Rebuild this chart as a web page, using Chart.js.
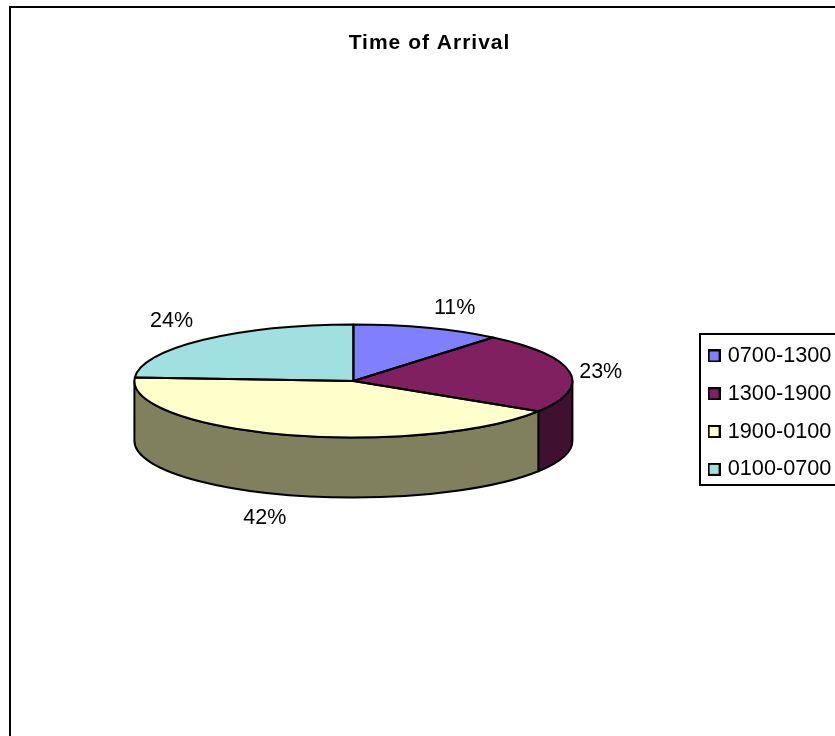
<!DOCTYPE html>
<html>
<head>
<meta charset="utf-8">
<title>Time of Arrival</title>
<script src="https://cdn.jsdelivr.net/npm/chart.js@4"></script>
<style>
  html, body { margin: 0; padding: 0; background: #fff; overflow: hidden; }
  canvas { display: block; }
</style>
</head>
<body>
<canvas id="chart" width="835" height="736"></canvas>
<script>
"use strict";

const categories = ["0700-1300", "1300-1900", "1900-0100", "0100-0700"];
const shares = [11, 23, 42, 24];
const colors = ["#8080FF", "#802060", "#FFFFCC", "#A0E0E0"];
const wallColors = ["#404080", "#401030", "#80805F", "#507070"];

// offset of each percent label from the rim of its slice
const labelOffsets = [[27, -20], [31, 0], [-21, 23], [-32, -19]];

const squash = 0.258; // height / width of the tilted pie
const depth = 60;     // height of the pie wall in px
const font = "Liberation Sans, Arial, sans-serif";

// Small bordered square used as the legend key
const swatch = (color) => {
  const c = document.createElement("canvas");
  c.width = c.height = 13;
  const g = c.getContext("2d");
  g.fillStyle = color;
  g.fillRect(0, 0, 13, 13);
  g.strokeStyle = "#000";
  g.lineWidth = 2;
  g.strokeRect(1, 1, 11, 11);
  return c;
};

// Excel style frame, legend box and spaced out title
const frame = {
  id: "frame",
  afterLayout(chart) {
    const legend = chart.legend;
    legend.left = 695.25;
    legend.top = 329;

    const title = chart.titleBlock;
    title.left = 24;
    title.right = 835;
    if (!title.spaced) {
      const drawTitle = title.draw;
      title.draw = function () {
        chart.ctx.letterSpacing = "1px";
        drawTitle.call(this);
        chart.ctx.letterSpacing = "0px";
      };
      title.spaced = true;
    }
  },
  beforeDraw(chart) {
    const ctx = chart.ctx;
    ctx.save();
    ctx.strokeStyle = "#000";
    ctx.lineWidth = 2;
    ctx.strokeRect(10, 7, 900, 900);
    ctx.strokeRect(700, 334, 200, 151);
    ctx.restore();
  },
};

// Chart.js has no 3D pie, so the doughnut arcs get squashed and a wall goes under them
const pie3d = {
  id: "pie3d",
  beforeDatasetsDraw(chart) {
    const ctx = chart.ctx;
    const arcs = chart.getDatasetMeta(0).data;
    const { x, y, outerRadius: r } = arcs[0];
    const ry = r * squash;

    ctx.save();
    ctx.strokeStyle = "#000";
    ctx.lineWidth = 2;
    ctx.lineJoin = "round";
    arcs.forEach((arc, i) => {
      // only the front half of the rim shows
      const from = Math.max(arc.startAngle, 0);
      const to = Math.min(arc.endAngle, Math.PI);
      if (to <= from) return;
      ctx.beginPath();
      ctx.ellipse(x, y, r, ry, 0, from, to);
      ctx.ellipse(x, y + depth, r, ry, 0, to, from, true);
      ctx.closePath();
      ctx.fillStyle = wallColors[i];
      ctx.fill();
      ctx.stroke();
    });
    ctx.restore();

    ctx.save();
    ctx.translate(x, y);
    ctx.scale(1, squash);
    ctx.translate(-x, -y);
  },
  afterDatasetsDraw(chart) {
    const ctx = chart.ctx;
    ctx.restore();

    const arcs = chart.getDatasetMeta(0).data;
    const { x, y, outerRadius: r } = arcs[0];
    const ry = r * squash;

    ctx.save();
    ctx.strokeStyle = "#000";
    ctx.lineWidth = 2;
    ctx.lineJoin = "round";
    arcs.forEach((arc) => {
      ctx.beginPath();
      ctx.moveTo(x, y);
      ctx.ellipse(x, y, r, ry, 0, arc.startAngle, arc.endAngle);
      ctx.closePath();
      ctx.stroke();
    });

    ctx.fillStyle = "#000";
    ctx.font = "21.5px " + font;
    ctx.textAlign = "center";
    ctx.textBaseline = "middle";
    arcs.forEach((arc, i) => {
      const mid = (arc.startAngle + arc.endAngle) / 2;
      const rimX = x + r * Math.cos(mid);
      let rimY = y + ry * Math.sin(mid);
      if (Math.sin(mid) > 0.5) rimY += depth;
      ctx.fillText(shares[i] + "%", rimX + labelOffsets[i][0], rimY + labelOffsets[i][1]);
    });
    ctx.restore();
  },
};

const config = {
  type: "pie",
  data: {
    labels: categories,
    datasets: [{
      data: shares,
      backgroundColor: colors,
      borderWidth: 0,
    }],
  },
  options: {
    responsive: false,
    animation: false,
    events: [],
    layout: { padding: { left: 18, right: 0, top: 0, bottom: 136 } },
    plugins: {
      tooltip: { enabled: false },
      title: {
        display: true,
        text: "Time of Arrival",
        color: "#000",
        font: { family: font, size: 21, weight: "bold" },
        padding: { top: 30.4, bottom: 106.4 },
      },
      legend: {
        position: "right",
        align: "start",
        labels: {
          color: "#000",
          font: { family: font, size: 21.7 },
          padding: 16.1,
          boxHeight: 13,
          usePointStyle: true,
          pointStyleWidth: 5.5,
          generateLabels: (chart) =>
            Chart.overrides.pie.plugins.legend.labels.generateLabels(chart)
              .map((item) => ({ ...item, pointStyle: swatch(item.fillStyle) })),
        },
      },
    },
  },
  plugins: [frame, pie3d],
};

new Chart(document.querySelector("#chart"), config);
</script>
</body>
</html>
